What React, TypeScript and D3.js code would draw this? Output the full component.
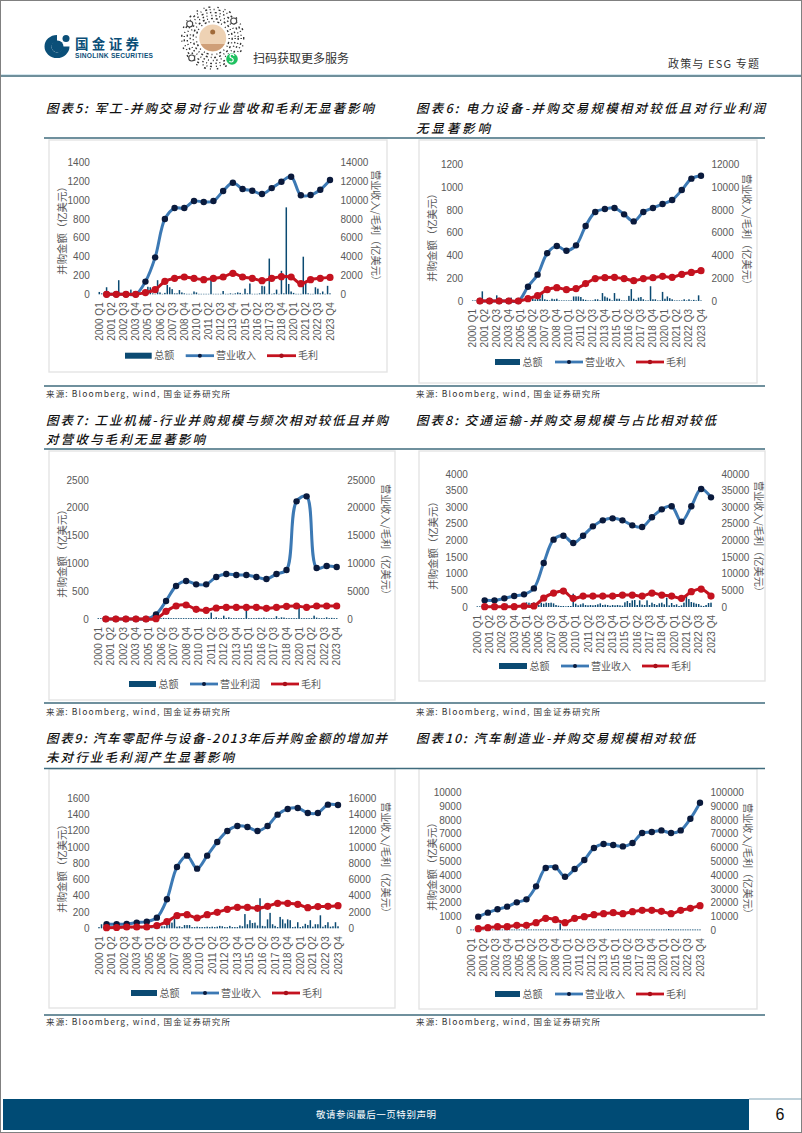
import React from "react";
import * as d3 from "d3";

const years = d3.range(2000, 2024);
const quarters = years.flatMap((y) => [1, 2, 3, 4].map((q) => `${y} Q${q}`));
const tickQuarters = quarters.filter((_, i) => i % 5 === 0);
const annualQuarters = years.map((y) => `${y} Q4`);

const bars5 = [
  25,10,5,75, 10,5,5,5, 150,5,5,5, 5,50,5,5, 5,5,5,30, 80,75,10,5,
  150,20,5,15, 100,75,55,10, 10,45,20,10, 5,5,5,30, 20,5,5,5, 5,5,190,5,
  5,5,5,35, 5,5,10,5, 10,20,15,5, 60,10,115,5, 5,5,10,90, 85,5,380,5,
  10,50,5,250, 10,925,110,30, 15,5,5,5, 400,120,10,5, 5,75,60,10, 30,5,90,10,
];
const rev5 = [0,0,0,0,1350,3930,8010,9180,9180,9920,9820,9920,10990,11870,11200,11020,10670,11300,11980,12510,10530,10560,11130,12160];
const gross5 = [0,0,0,0,180,500,1380,1700,1840,1700,1560,1700,1840,2230,1840,1700,1450,1700,1880,1840,1130,1560,1700,1800];

const bars6 = [
  5,5,5,5, 85,5,5,5, 5,5,50,20, 5,5,5,25, 30,5,5,5, 5,5,5,10,
  15,20,15,20, 20,60,15,10, 5,20,15,20, 5,5,5,5, 5,5,40,40, 40,35,15,10,
  5,5,5,15, 15,5,70,40, 30,20,5,70, 20,20,5,5, 5,45,105,20, 10,30,35,15,
  5,5,130,15, 15,5,5,80, 20,40,25,15, 5,5,5,5, 15,5,15,5, 10,5,50,5,
];
const rev6 = [0,0,0,0,0,1260,2320,4200,4840,4430,4900,6600,7830,8100,8190,7630,7010,7830,8190,8540,8890,9770,10770,11030];
const gross6 = [0,0,0,0,0,205,470,1000,1170,1000,1090,1530,1970,2050,2080,1970,1790,1970,2050,2170,2080,2350,2520,2670];

const bars7 = [
  15,15,15,15, 15,15,15,15, 15,15,15,15, 15,15,15,15, 15,15,15,15, 15,15,15,15,
  20,15,20,15, 20,15,15,15, 15,15,15,15, 15,15,15,15, 15,15,15,15, 20,115,15,30,
  15,15,60,20, 30,15,15,15, 15,15,15,160, 15,15,15,15, 20,15,25,15, 15,15,15,50,
  15,30,25,15, 15,15,15,15, 210,15,15,15, 15,15,60,25, 15,15,15,30, 15,20,15,15,
];
const profit7 = [0,0,0,0,0,840,3240,5935,6830,6235,6235,7550,8090,7910,7910,7550,7190,8090,8810,21160,22060,9170,9530,9350];
const gross7 = [0,0,0,0,0,50,1380,2340,2520,1740,1560,1980,2100,2100,2100,2100,1920,2100,2280,2340,2100,2340,2340,2340];

const bars8 = [
  20,20,20,20, 20,20,20,20, 20,20,20,20, 100,20,20,20, 20,30,20,30, 140,130,120,140,
  40,60,130,100, 130,120,130,110, 60,40,30,30, 20,30,30,400, 100,50,80,110, 60,50,60,50,
  60,80,110,60, 70,60,40,60, 50,60,50,40, 140,180,120,200, 210,60,200,70, 60,200,60,130,
  90,60,110,130, 80,280,50,120, 60,80,30,50, 130,350,240,150, 130,100,90,40, 30,60,120,130,
];
const rev8 = [2005,2005,2600,3300,3800,5600,13230,20250,21450,19250,21450,24260,26060,26660,26060,24560,24060,26970,29370,30280,25660,30280,35490,32980];
const gross8 = [100,100,100,100,300,300,2700,4200,4800,2600,3300,3300,3300,3300,3600,3600,3300,4200,3600,3300,2600,4600,5400,3300];

const bars9 = [
  15,50,15,15, 20,15,15,20, 15,15,15,15, 15,20,15,15, 15,15,15,15, 15,15,15,15,
  20,25,25,60, 60,70,120,20, 25,15,40,40, 40,15,15,20, 15,15,15,20, 15,20,15,20,
  30,25,15,15, 30,15,15,15, 35,25,175,50, 100,65,70,35, 370,30,25,110, 190,50,30,15,
  140,110,60,110, 100,15,20,75, 15,25,55,40, 100,20,50,50, 160,20,40,75, 20,25,75,25,
];
const rev9 = [490,490,530,700,820,1310,3570,7550,8940,7340,8940,10630,11980,12600,12470,11980,12600,13990,14690,14810,14200,14200,15220,15180];
const gross9 = [80,100,160,160,160,330,820,1560,1680,1270,1680,1970,2340,2580,2580,2460,2710,3080,3080,2950,2540,2670,2710,2790];

const bars10 = [
  60,60,60,60, 60,60,60,60, 60,60,60,60, 60,60,60,60, 60,60,60,60, 60,60,60,60,
  60,60,60,60, 60,60,60,60, 60,60,60,60, 60,500,60,60, 60,60,60,60, 60,60,60,60,
  60,60,60,60, 60,60,60,60, 60,90,60,60, 60,60,60,60, 60,60,60,60, 60,60,60,60,
  60,60,60,60, 60,60,60,60, 60,60,90,60, 60,60,60,60, 60,60,60,60, 60,60,60,60,
];
const rev10 = [9920,12830,15250,17180,20330,22510,31950,45250,45740,38960,44530,51060,59770,62680,61950,60980,63400,70660,71390,72600,70660,72600,81070,92690];
const gross10 = [1210,1940,2660,2660,3630,3630,5570,8710,7740,5570,8710,9920,11370,12100,12830,12100,13550,14520,14520,13790,12100,14520,15970,17910];

const titles = [
  { text: "图表5: 军工-并购交易对行业营收和毛利无显著影响", x: 46, y: 113, w: 328 },
  { text: "图表6: 电力设备-并购交易规模相对较低且对行业利润", x: 416, y: 113, w: 349 },
  { text: "无显著影响", x: 416, y: 133, w: 74 },
  { text: "图表7: 工业机械-行业并购规模与频次相对较低且并购", x: 46, y: 425, w: 342 },
  { text: "对营收与毛利无显著影响", x: 46, y: 444, w: 159 },
  { text: "图表8: 交通运输-并购交易规模与占比相对较低", x: 416, y: 425, w: 300 },
  { text: "图表9: 汽车零配件与设备-2013年后并购金额的增加并", x: 46, y: 743, w: 341 },
  { text: "未对行业毛利润产生显著影响", x: 46, y: 762, w: 188 },
  { text: "图表10: 汽车制造业-并购交易规模相对较低", x: 416, y: 743, w: 279 },
];
const sourceText = "来源: Bloomberg, wind, 国金证券研究所";
const sourceSpots = [
  [46, 397], [416, 397], [46, 715], [416, 715], [46, 1025], [416, 1025],
];
const ruleRows = [138, 386, 449, 703, 768.5, 1015];
const frames = [
  [49, 140, 387, 372], [419, 140, 757, 383], [49, 451, 395, 700],
  [419, 451, 765, 681], [49, 769, 395, 1008], [419, 769, 757, 1009],
];

const GRAY = "#595959";
const NAVY = "#0b4a72";
const BLUE = "#3c79b4";
const RED = "#c4121f";
const SANS = "'Liberation Sans', Arial, sans-serif";
const CJK = "'Noto Sans CJK SC', sans-serif";

type ChartProps = {
  bars: number[]; line: number[]; gross: number[]; lineName: string;
  leftMax: number; step: number;
  x0: number; x95: number; yTop: number; yBase: number;
  leftTitle: [number, number]; rightTitle: [number, number];
  legendY: number; legendX: number[];
};

function Chart(p: ChartProps) {
  const x = d3.scalePoint<string>().domain(quarters).range([p.x0, p.x95]);
  const yL = d3.scaleLinear().domain([0, p.leftMax]).range([p.yBase, p.yTop]);
  const yR = d3.scaleLinear().domain([0, p.leftMax * 10]).range([p.yBase, p.yTop]);
  const gen = d3.line<number>()
    .x((_, i) => x(annualQuarters[i])!)
    .y((d) => yR(d))
    .curve(d3.curveCatmullRom.alpha(0.5));
  const leftTicks = d3.range(0, p.leftMax + p.step, p.step);
  const bw = 1.5;
  const [lb0, lb1, lt, l0, l1, lt2] = p.legendX;
  return (
    <g>
      {p.bars.map((v, i) => (
        <rect key={i} x={x(quarters[i])! - bw / 2} width={bw} y={yL(v)} height={p.yBase - yL(v)} fill={NAVY} />
      ))}
      <path d={gen(p.line)!} fill="none" stroke={BLUE} strokeWidth={3} />
      {p.line.map((v, i) => (
        <circle key={i} cx={x(annualQuarters[i])} cy={yR(v)} r={3.2} fill="#0a1a3c" />
      ))}
      <path d={gen(p.gross)!} fill="none" stroke={RED} strokeWidth={3} />
      {p.gross.map((v, i) => (
        <circle key={i} cx={x(annualQuarters[i])} cy={yR(v)} r={3.6} fill={RED} />
      ))}
      {leftTicks.map((t) => (
        <g key={t} fontFamily={SANS} fontSize={10} fill={GRAY}>
          <text x={p.x0 - 9.5} y={yL(t) + 3.5} textAnchor="end">{t}</text>
          <text x={p.x95 + 10.5} y={yL(t) + 3.5}>{t * 10}</text>
        </g>
      ))}
      {tickQuarters.map((q) => (
        <text key={q} fontFamily={SANS} fontSize={10} fill={GRAY} textAnchor="end"
          transform={`translate(${x(q)! + 3.5},${p.yBase + 8}) rotate(-90)`}>{q}</text>
      ))}
      <text fontFamily={CJK} fontSize={10.4} fill={GRAY} textAnchor="middle"
        transform={`translate(${p.leftTitle[0] + 3.5},${p.leftTitle[1]}) rotate(-90)`}>并购金额（亿美元）</text>
      <text fontFamily={CJK} fontSize={10.2} fill={GRAY} textAnchor="middle"
        transform={`translate(${p.rightTitle[0] - 3.5},${p.rightTitle[1]}) rotate(90)`}>营业收入/毛利（亿美元）</text>
      <rect x={lb0} width={lb1 - lb0} y={p.legendY - 3} height={6} fill={NAVY} />
      <text x={lb1 + 2.5} y={p.legendY + 3.5} fontFamily={CJK} fontSize={10} fill={GRAY}>总额</text>
      <line x1={lt} x2={l0} y1={p.legendY} y2={p.legendY} stroke={BLUE} strokeWidth={2.8} />
      <circle cx={(lt + l0) / 2} cy={p.legendY} r={2} fill="#0a1a3c" />
      <text x={l0 + 2} y={p.legendY + 3.5} fontFamily={CJK} fontSize={10} fill={GRAY}>{p.lineName}</text>
      <line x1={l1} x2={lt2} y1={p.legendY} y2={p.legendY} stroke={RED} strokeWidth={2.8} />
      <circle cx={(l1 + lt2) / 2} cy={p.legendY} r={2.2} fill="#a80f1a" />
      <text x={lt2 + 2} y={p.legendY + 3.5} fontFamily={CJK} fontSize={10} fill={GRAY}>毛利</text>
    </g>
  );
}

const qrRings = [
  { r: 16.5, dash: "1 3 2 2 1 4" },
  { r: 19.5, dash: "2 2.5 1 3 2 3" },
  { r: 22.5, dash: "1 3 1.5 2.5 1 4" },
  { r: 25.5, dash: "2 3 1 2.5 1.5 3.5" },
  { r: 28.5, dash: "1 4 2 2.5 1 3" },
  { r: 31, dash: "1.5 6 1 4 2 7" },
];
const qrFinders = [[-23, -14], [21, -17], [-21, 20]];

function Header() {
  const cx = 212.7, cy = 38;
  return (
    <g>
      <path d="M57,35 a12.5,11.5 0 1,0 12.5,11.5 l-7,0 a5.5,5.5 0 1,1 -5.5,-5 z" fill="#0b4f78" />
      <circle cx={57.5} cy={46.5} r={6} fill="#0b4f78" />
      <circle cx={66} cy={38.5} r={3.5} fill="#0b4f78" />
      <text x={75} y={49} fontFamily={CJK} fontSize={13.5} fontWeight={700} fill="#0b4f78" textLength={64} lengthAdjust="spacing">国金证券</text>
      <text x={75} y={58} fontFamily={SANS} fontSize={6.6} fontWeight={700} fill="#0b4f78" textLength={78} lengthAdjust="spacing">SINOLINK SECURITIES</text>
      {qrRings.map((q) => (
        <circle key={q.r} cx={cx} cy={cy} r={q.r} fill="none" stroke="#333" strokeWidth={1.4} strokeDasharray={q.dash} />
      ))}
      {qrFinders.map(([dx, dy], i) => (
        <circle key={i} cx={cx + dx} cy={cy + dy} r={3} fill="#fff" stroke="#444" strokeWidth={1.1} />
      ))}
      <circle cx={cx} cy={cy} r={13.5} fill="#eed2b4" />
      <path d={`M${cx - 12},${cy + 6} a13.5,13.5 0 0,0 24,0 z`} fill="#cf9f78" />
      <circle cx={cx} cy={cy - 6} r={2.5} fill="#a06a3a" />
      <circle cx={232} cy={59} r={6.5} fill="#fff" />
      <circle cx={232} cy={59} r={5.8} fill="#1fc160" />
      <path d="M229.5,61 a2,2 0 1,0 2,-3 a2,2 0 1,1 2.5,-2" fill="none" stroke="#fff" strokeWidth={1.2} />
      <text x={253} y={62.5} fontFamily={CJK} fontSize={12} fill="#333" textLength={96}>扫码获取更多服务</text>
      <text x={668} y={68} fontFamily={CJK} fontSize={11} fill="#333" textLength={91}>政策与 ESG 专题</text>
      <line x1={0} x2={802} y1={76} y2={76} stroke="#6f8f9b" strokeWidth={2.2} />
      <line x1={0} x2={802} y1={74.5} y2={74.5} stroke="#d4e6ee" strokeWidth={1} />
    </g>
  );
}

export default function App() {
  return (
    <svg width={802} height={1133} viewBox="0 0 802 1133"
      style={{ position: "absolute", left: 0, top: 0, background: "#fff" }}>
      <Header />
      {frames.map(([a, b, c, d], i) => (
        <rect key={i} x={a} y={b} width={c - a} height={d - b} fill="#fff" stroke="#e4e4e4" strokeWidth={1.4} />
      ))}
      {ruleRows.map((y) => (
        <line key={y} x1={44} x2={765} y1={y} y2={y} stroke="#3f6b7d" strokeWidth={1.5} />
      ))}
      {titles.map((t) => (
        <text key={t.text} x={t.x} y={t.y} fontFamily={CJK} fontSize={12.5} fontWeight={500}
          fontStyle="italic" fill="#111" textLength={t.w} lengthAdjust="spacing">{t.text}</text>
      ))}
      {sourceSpots.map(([x, y], i) => (
        <text key={i} x={x} y={y} fontFamily={CJK} fontSize={8.5} fill="#333" textLength={184} lengthAdjust="spacing">{sourceText}</text>
      ))}
      <Chart bars={bars5} line={rev5} gross={gross5} lineName="营业收入" leftMax={1400} step={200}
        x0={99.3} x95={330} yTop={162.7} yBase={294.3} leftTitle={[62, 228]} rightTitle={[375, 228]}
        legendY={355.7} legendX={[125, 151.7, 185.7, 214, 267, 296]} />
      <Chart bars={bars6} line={rev6} gross={gross6} lineName="营业收入" leftMax={1200} step={200}
        x0={472.7} x95={701} yTop={164.7} yBase={301} leftTitle={[432, 235]} rightTitle={[746, 232]}
        legendY={362} legendX={[495, 520, 555, 583, 636, 664]} />
      <Chart bars={bars7} line={profit7} gross={gross7} lineName="营业利润" leftMax={2500} step={500}
        x0={98.3} x95={336.7} yTop={480} yBase={619} leftTitle={[62, 551]} rightTitle={[385, 542]}
        legendY={684} legendX={[129, 156, 190, 218, 271, 299]} />
      <Chart bars={bars8} line={rev8} gross={gross8} lineName="营业收入" leftMax={4000} step={500}
        x0={477.3} x95={711} yTop={474} yBase={607} leftTitle={[433, 543]} rightTitle={[758, 539]}
        legendY={666} legendX={[499, 527, 561, 589, 642, 669]} />
      <Chart bars={bars9} line={rev9} gross={gross9} lineName="营业收入" leftMax={1600} step={200}
        x0={99} x95={338} yTop={798.3} yBase={928.3} leftTitle={[62, 866]} rightTitle={[385, 860]}
        legendY={993} legendX={[131, 157, 191, 219, 272, 300]} />
      <Chart bars={bars10} line={rev10} gross={gross10} lineName="营业收入" leftMax={10000} step={1000}
        x0={471} x95={700} yTop={792.7} yBase={930.3} leftTitle={[432, 864]} rightTitle={[747, 861]}
        legendY={994} legendX={[495, 520, 555, 583, 636, 664]} />
      <rect x={3} y={1099} width={746} height={31} fill="#004b75" />
      <line x1={749} x2={802} y1={1099} y2={1099} stroke="#7fa3b5" strokeWidth={1} />
      <text x={316} y={1118} fontFamily={CJK} fontSize={9.5} fill="#fff" textLength={120} lengthAdjust="spacing">敬请参阅最后一页特别声明</text>
      <text x={780} y={1120} fontFamily={SANS} fontSize={16} fill="#111" textAnchor="middle">6</text>
      <rect x={0.5} y={0.5} width={801} height={1132} fill="none" stroke="#808080" strokeWidth={1} />
    </svg>
  );
}
